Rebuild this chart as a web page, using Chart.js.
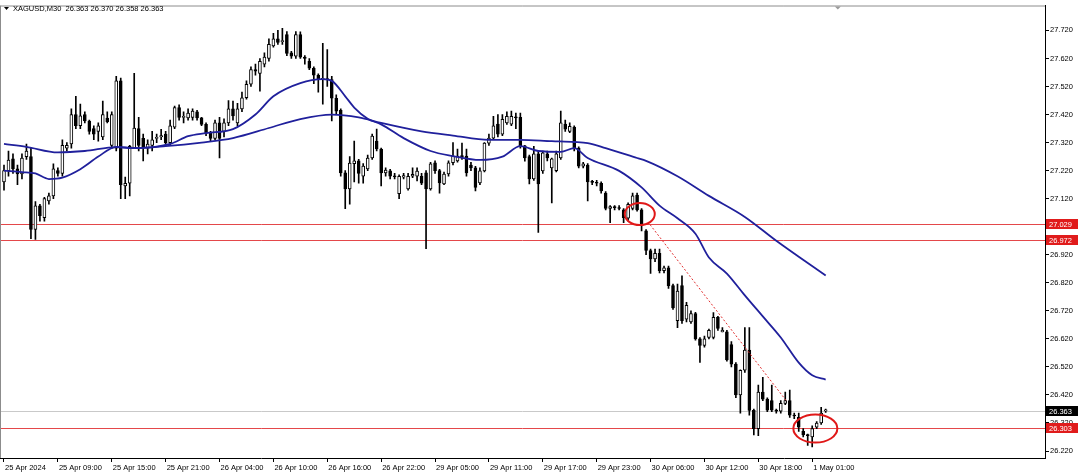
<!DOCTYPE html>
<html><head><meta charset="utf-8">
<script src="https://cdn.jsdelivr.net/npm/chart.js@4.4.1/dist/chart.umd.min.js"></script>
<style>html,body{margin:0;padding:0;background:#fff;overflow:hidden}#wrap{width:1080px;height:475px;position:relative}</style>
</head><body><div id="wrap"><canvas id="c" width="1080" height="475"></canvas></div>
<script>
const symbolTitle = 'XAGUSD,M30';
const lastQuote = ['26.363', '26.370', '26.358', '26.363'];

const opens = [27.18,27.22,27.262,27.226,27.208,27.27,27.27,27.01,27.094,27.052,27.112,27.13,27.22,27.21,27.30,27.315,27.42,27.38,27.42,27.397,
27.37,27.36,27.34,27.407,27.31,27.30,27.54,27.165,27.175,27.30,27.37,27.335,27.30,27.31,27.335,27.34,27.35,27.32,27.375,27.445,
27.41,27.408,27.41,27.43,27.408,27.385,27.355,27.335,27.39,27.36,27.39,27.44,27.39,27.44,27.48,27.528,27.58,27.567,27.60,27.62,
27.665,27.69,27.68,27.705,27.64,27.628,27.705,27.625,27.61,27.585,27.56,27.546,27.548,27.545,27.478,27.435,27.212,27.155,27.245,27.255,
27.20,27.226,27.265,27.325,27.297,27.212,27.219,27.20,27.138,27.197,27.155,27.20,27.20,27.20,27.212,27.155,27.248,27.22,27.173,27.208,
27.248,27.255,27.272,27.272,27.24,27.23,27.176,27.219,27.318,27.336,27.386,27.35,27.39,27.386,27.41,27.41,27.308,27.27,27.19,27.28,
27.219,27.28,27.23,27.22,27.265,27.386,27.36,27.375,27.30,27.236,27.24,27.18,27.178,27.175,27.14,27.085,27.09,27.088,27.08,27.05,
27.085,27.133,27.08,27.005,26.935,26.905,26.925,26.863,26.873,26.81,26.685,26.81,26.69,26.68,26.71,26.62,26.597,26.625,26.625,26.697,
26.645,26.645,26.60,26.53,26.42,26.508,26.58,26.365,26.30,26.43,26.405,26.40,26.366,26.362,26.39,26.40,26.348,26.34,26.29,26.277,
26.27,26.305,26.32,26.363];
const highs = [27.24,27.29,27.28,27.24,27.28,27.315,27.30,27.11,27.10,27.125,27.14,27.244,27.23,27.33,27.32,27.44,27.485,27.457,27.43,27.40,
27.38,27.39,27.468,27.43,27.43,27.556,27.55,27.197,27.31,27.567,27.41,27.35,27.33,27.36,27.35,27.367,27.36,27.40,27.45,27.455,
27.43,27.44,27.44,27.435,27.41,27.39,27.36,27.40,27.41,27.405,27.47,27.468,27.46,27.50,27.54,27.59,27.60,27.62,27.64,27.69,
27.71,27.72,27.727,27.716,27.645,27.716,27.715,27.63,27.62,27.59,27.565,27.674,27.652,27.556,27.49,27.44,27.22,27.27,27.325,27.26,
27.245,27.275,27.35,27.368,27.30,27.23,27.225,27.21,27.205,27.21,27.21,27.23,27.23,27.21,27.22,27.25,27.255,27.225,27.215,27.255,
27.32,27.297,27.318,27.297,27.25,27.235,27.23,27.32,27.35,27.414,27.42,27.42,27.43,27.432,27.425,27.425,27.31,27.275,27.307,27.29,
27.29,27.29,27.265,27.29,27.432,27.40,27.39,27.38,27.305,27.25,27.245,27.185,27.185,27.18,27.145,27.095,27.095,27.095,27.085,27.105,
27.14,27.14,27.085,27.01,26.94,26.94,26.94,26.88,26.88,26.815,26.815,26.845,26.75,26.72,26.715,26.625,26.63,26.655,26.714,26.70,
26.66,26.65,26.61,26.535,26.51,26.66,26.66,26.37,26.455,26.483,26.41,26.455,26.37,26.40,26.43,26.437,26.355,26.355,26.30,26.28,
26.31,26.325,26.376,26.370];
const lows = [27.15,27.20,27.21,27.17,27.19,27.26,26.977,26.975,27.04,27.04,27.10,27.12,27.20,27.20,27.29,27.30,27.37,27.37,27.39,27.35,
27.33,27.325,27.33,27.39,27.30,27.29,27.12,27.12,27.13,27.30,27.29,27.255,27.28,27.29,27.32,27.33,27.31,27.31,27.37,27.40,
27.39,27.40,27.40,27.40,27.38,27.345,27.325,27.33,27.265,27.34,27.38,27.40,27.38,27.43,27.475,27.52,27.56,27.503,27.59,27.61,
27.66,27.67,27.67,27.63,27.62,27.62,27.62,27.60,27.58,27.53,27.50,27.457,27.52,27.397,27.42,27.20,27.084,27.10,27.18,27.175,
27.175,27.22,27.26,27.29,27.165,27.20,27.19,27.19,27.12,27.19,27.15,27.195,27.183,27.17,26.942,27.15,27.21,27.14,27.17,27.20,
27.24,27.25,27.26,27.20,27.22,27.148,27.17,27.215,27.31,27.33,27.34,27.345,27.385,27.38,27.37,27.30,27.254,27.173,27.185,27.0,
27.21,27.255,27.105,27.215,27.26,27.36,27.355,27.29,27.23,27.23,27.112,27.17,27.165,27.14,27.08,27.034,27.08,27.08,27.034,27.04,
27.08,27.075,27.005,26.92,26.853,26.895,26.855,26.855,26.80,26.725,26.66,26.675,26.68,26.675,26.615,26.536,26.59,26.62,26.62,26.65,
26.645,26.54,26.52,26.41,26.355,26.50,26.348,26.277,26.275,26.40,26.36,26.36,26.355,26.355,26.385,26.34,26.335,26.29,26.27,26.24,
26.235,26.30,26.315,26.358];
const closes = [27.22,27.258,27.226,27.208,27.265,27.29,27.01,27.094,27.059,27.12,27.13,27.226,27.21,27.31,27.31,27.42,27.38,27.415,27.397,27.36,
27.35,27.38,27.42,27.395,27.42,27.54,27.17,27.175,27.307,27.372,27.31,27.305,27.315,27.33,27.335,27.345,27.32,27.38,27.445,27.41,
27.41,27.425,27.432,27.408,27.385,27.355,27.335,27.39,27.335,27.39,27.44,27.415,27.44,27.48,27.528,27.58,27.575,27.61,27.625,27.67,
27.69,27.677,27.68,27.638,27.628,27.705,27.625,27.62,27.585,27.56,27.546,27.548,27.545,27.478,27.432,27.212,27.155,27.247,27.255,27.21,
27.236,27.265,27.343,27.297,27.212,27.222,27.20,27.198,27.20,27.202,27.20,27.207,27.218,27.175,27.155,27.244,27.22,27.176,27.208,27.248,
27.272,27.272,27.27,27.212,27.23,27.16,27.219,27.318,27.336,27.38,27.35,27.403,27.414,27.414,27.408,27.308,27.265,27.19,27.28,27.173,
27.283,27.265,27.262,27.28,27.39,27.368,27.378,27.30,27.236,27.244,27.18,27.178,27.175,27.148,27.085,27.092,27.088,27.085,27.052,27.10,
27.13,27.08,27.03,26.935,26.905,26.925,26.863,26.873,26.81,26.73,26.79,26.685,26.74,26.71,26.62,26.597,26.62,26.65,26.697,26.657,
26.65,26.545,26.53,26.42,26.508,26.58,26.365,26.30,26.43,26.405,26.366,26.366,26.362,26.39,26.40,26.348,26.345,26.305,26.277,26.275,
26.30,26.32,26.355,26.363];

const fastIdx = [0,4,7,10,13,17,21,25,29,37,41,45,51,56,60,66,71,73,76,78,81,84,89,95,100,106,111,115,119,124,127,130,137,142,146,150,154,157,161,165,169,173,177,180,183];
const fastVal = [27.22,27.215,27.21,27.19,27.195,27.225,27.27,27.305,27.30,27.315,27.343,27.354,27.368,27.42,27.485,27.532,27.546,27.54,27.485,27.445,27.405,27.385,27.336,27.29,27.272,27.258,27.27,27.307,27.29,27.287,27.30,27.265,27.219,27.16,27.095,27.05,26.995,26.91,26.853,26.775,26.70,26.625,26.535,26.49,26.475];
const slowIdx = [0,5,12,18,25,29,36,44,51,59,66,73,79,84,93,100,108,115,122,127,130,134,141,143,150,157,165,172,183];
const slowVal = [27.315,27.305,27.285,27.29,27.304,27.30,27.307,27.32,27.336,27.372,27.404,27.42,27.41,27.39,27.36,27.345,27.33,27.33,27.325,27.322,27.318,27.30,27.265,27.255,27.20,27.13,27.055,26.97,26.846];

const timeTicks = ['25 Apr 2024','25 Apr 09:00','25 Apr 15:00','25 Apr 21:00','26 Apr 04:00','26 Apr 10:00','26 Apr 16:00','26 Apr 22:00','29 Apr 05:00','29 Apr 11:00','29 Apr 17:00','29 Apr 23:00','30 Apr 06:00','30 Apr 12:00','30 Apr 18:00','1 May 01:00'];
const barsPerTick = 12;
const priceTicks = [27.72,27.62,27.52,27.42,27.32,27.22,27.12,27.02,26.92,26.82,26.72,26.62,26.52,26.42,26.32,26.22];

const redLevels = [27.029, 26.972, 26.303];
const bidLevel = 26.363;
const trendIdx = [143.9, 174.2];
const trendVal = [27.027, 26.40];
const circleIdx = [141.6, 180.7];
const circleVal = [27.065, 26.300];
const shiftMarkIdx = 185.7;
</script>
<script>
const FONT = 'Liberation Sans, Arial, sans-serif';
const circleR = [[15, 11], [22, 14]];
const candleColors = opens.map((o, i) => closes[i] >= o ? '#ffffff' : '#000000');

const overlay = {
  id: 'overlay',
  beforeDatasetsDraw(chart) {
    const {ctx, chartArea: a, scales: {y}} = chart;
    ctx.save();
    ctx.lineWidth = 1;
    ctx.strokeStyle = '#c9c9c9';
    let py = Math.round(y.getPixelForValue(bidLevel)) + 0.5;
    ctx.beginPath(); ctx.moveTo(a.left, py); ctx.lineTo(a.right, py); ctx.stroke();
    ctx.strokeStyle = '#e4474a';
    redLevels.forEach(v => {
      const p = Math.round(y.getPixelForValue(v)) + 0.5;
      ctx.beginPath(); ctx.moveTo(a.left, p); ctx.lineTo(a.right, p); ctx.stroke();
    });
    ctx.restore();
  },
  afterDatasetsDraw(chart) {
    const {ctx, scales: {x, y}} = chart;
    ctx.save();
    ctx.strokeStyle = '#e03030';
    ctx.lineWidth = 1;
    ctx.setLineDash([2, 2]);
    ctx.beginPath();
    ctx.moveTo(x.getPixelForValue(trendIdx[0]), y.getPixelForValue(trendVal[0]));
    ctx.lineTo(x.getPixelForValue(trendIdx[1]), y.getPixelForValue(trendVal[1]));
    ctx.stroke();
    ctx.setLineDash([]);
    ctx.strokeStyle = '#e01818';
    ctx.lineWidth = 2;
    circleIdx.forEach((ci, k) => {
      ctx.beginPath();
      ctx.ellipse(x.getPixelForValue(ci), y.getPixelForValue(circleVal[k]), circleR[k][0], circleR[k][1], 0, 0, Math.PI * 2);
      ctx.stroke();
    });
    ctx.restore();
  },
  afterDraw(chart) {
    const {ctx, chartArea: a, scales: {x, y}} = chart;
    ctx.save();
    ctx.strokeStyle = '#8c8c8c';
    ctx.lineWidth = 1;
    ctx.beginPath();
    ctx.moveTo(0.5, a.top + 0.5); ctx.lineTo(a.right, a.top + 0.5);
    ctx.moveTo(0.5, a.top); ctx.lineTo(0.5, a.bottom);
    ctx.stroke();
    // chart shift marker
    const sx = x.getPixelForValue(shiftMarkIdx);
    ctx.fillStyle = '#9a9a9a';
    ctx.beginPath();
    ctx.moveTo(sx - 3, a.top + 1); ctx.lineTo(sx + 3, a.top + 1); ctx.lineTo(sx, a.top + 4); ctx.closePath(); ctx.fill();
    ctx.font = '7.5px ' + FONT;
    ctx.textBaseline = 'middle';
    const box = (v, bg) => {
      const p = Math.round(y.getPixelForValue(v));
      ctx.fillStyle = bg;
      ctx.fillRect(a.right + 1, p - 5, 32, 10);
      ctx.fillStyle = '#ffffff';
      ctx.textAlign = 'left';
      ctx.fillText(v.toFixed(3), a.right + 4, p + 0.5);
    };
    redLevels.forEach(v => box(v, '#e01b1b'));
    box(bidLevel, '#000000');
    ctx.fillStyle = '#000';
    ctx.beginPath();
    ctx.moveTo(4, 7); ctx.lineTo(9, 7); ctx.lineTo(6.5, 10); ctx.closePath(); ctx.fill();
    ctx.font = '7.5px ' + FONT;
    ctx.textAlign = 'left';
    ctx.fillText(symbolTitle + '  ' + lastQuote.join(' '), 13, 9);
    ctx.restore();
  }
};

new Chart(document.getElementById('c'), {
  type: 'bar',
  data: {
    datasets: [
      {
        type: 'line', label: 'MA fast',
        data: fastIdx.map((v, k) => ({x: v, y: fastVal[k]})),
        borderColor: '#20209c', borderWidth: 1.8, pointRadius: 0,
        cubicInterpolationMode: 'monotone', order: 0
      },
      {
        type: 'line', label: 'MA slow',
        data: slowIdx.map((v, k) => ({x: v, y: slowVal[k]})),
        borderColor: '#20209c', borderWidth: 1.8, pointRadius: 0,
        cubicInterpolationMode: 'monotone', order: 0
      },
      {
        label: 'bodies',
        data: opens.map((o, i) => ({x: i, y: [o, closes[i]]})),
        backgroundColor: candleColors, borderColor: '#000', borderWidth: 1,
        borderSkipped: false, barThickness: 3, minBarLength: 1, grouped: false, order: 1
      },
      {
        label: 'wicks',
        data: lows.map((l, i) => ({x: i, y: [l, highs[i]]})),
        backgroundColor: '#000', borderWidth: 0, barThickness: 1, grouped: false, order: 2
      }
    ]
  },
  options: {
    responsive: false, animation: false, devicePixelRatio: 1,
    layout: {padding: {top: 4, left: 0, right: 0, bottom: 0}},
    plugins: {legend: {display: false}, tooltip: {enabled: false}},
    scales: {
      x: {
        type: 'linear', offset: false, min: -4 / 4.49, max: (1045 - 4) / 4.49,
        afterBuildTicks: s => { s.ticks = timeTicks.map((t, k) => ({value: k * barsPerTick})); },
        afterFit: s => { s.height = 17; },
        ticks: {
          callback: v => timeTicks[Math.round(v / barsPerTick)] || '',
          autoSkip: false, maxRotation: 0, align: 'start', labelOffset: 1, padding: 1,
          color: '#000', font: {family: FONT, size: 7.5}
        },
        grid: {offset: false, drawOnChartArea: false, drawTicks: true, tickLength: 4, color: '#000'},
        border: {color: '#000'}
      },
      y: {
        type: 'linear', position: 'right',
        min: 26.22 - 7 / 281.33, max: 27.72 + 25 / 281.33,
        afterBuildTicks: s => { s.ticks = priceTicks.map(v => ({value: v})); },
        afterFit: s => { s.width = 35; },
        ticks: {
          callback: v => v.toFixed(3), padding: 1,
          color: '#000', font: {family: FONT, size: 7.5}
        },
        grid: {drawOnChartArea: false, drawTicks: true, tickLength: 4, color: '#000'},
        border: {color: '#000'}
      }
    }
  },
  plugins: [overlay]
});
</script>
</body></html>
